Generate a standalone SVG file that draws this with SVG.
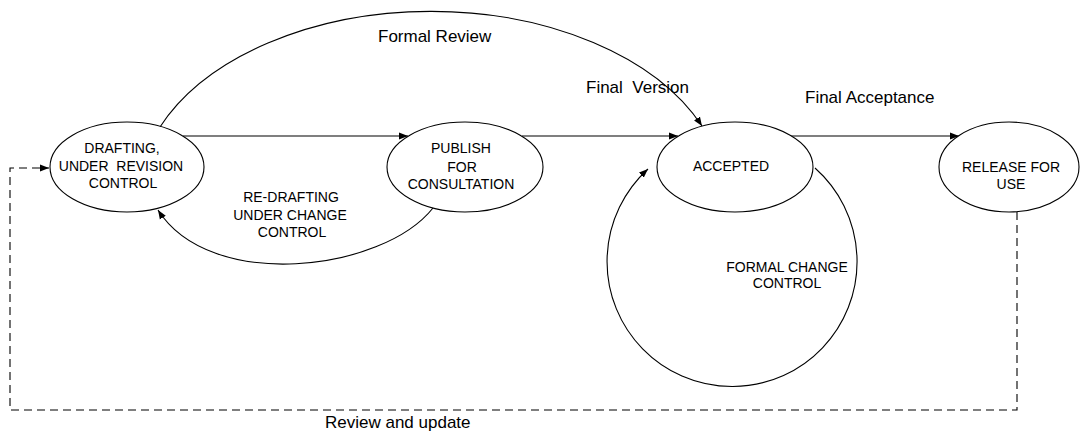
<svg xmlns="http://www.w3.org/2000/svg" width="1084" height="436" viewBox="0 0 1084 436">
<style>
.n{fill:#fff;stroke:#000;stroke-width:1.1}
.t{font-family:"Liberation Sans",Arial,sans-serif;font-size:14px;fill:#000;text-anchor:middle}
.l{font-family:"Liberation Sans",Arial,sans-serif;font-size:17px;fill:#000}
.c{fill:none;stroke:#000;stroke-width:1.1}
.d{fill:none;stroke:#000;stroke-width:1.1;stroke-dasharray:8,5}
.pre{white-space:pre}
</style>
<defs>
<marker id="ah" markerUnits="userSpaceOnUse" markerWidth="10" markerHeight="8" refX="9" refY="4" orient="auto">
<path d="M0,0.5 L9,4 L0,7.5 Z" fill="#000"/>
</marker>
</defs>
<rect width="1084" height="436" fill="#fff"/>
<g id="connectors">
<path class="c" d="M183,136 H408" marker-end="url(#ah)"/>
<path class="c" d="M522,136 H678" marker-end="url(#ah)"/>
<path class="c" d="M791,136 H959" marker-end="url(#ah)"/>
<path class="c" d="M160,127 A294,188 0 0 1 702,126" marker-end="url(#ah)"/>
<path class="c" d="M433,208 C382,272 210,292 158,210" marker-end="url(#ah)"/>
<path class="c" d="M815,168 A125,125 0 1 1 648,169" marker-end="url(#ah)"/>
<path class="d" d="M1017,212 V410 H10 V168 H49" marker-end="url(#ah)"/>
</g>
<g id="labels">
<text class="l" x="378" y="42">Formal Review</text>
<text class="l pre" x="586" y="93">Final  Version</text>
<text class="l" x="805" y="103">Final Acceptance</text>
<text class="l" x="325" y="428">Review and update</text>
<text class="t" x="291" y="202">RE-DRAFTING</text>
<text class="t" x="290" y="220">UNDER CHANGE</text>
<text class="t" x="292" y="237">CONTROL</text>
<text class="t" x="787" y="272">FORMAL CHANGE</text>
<text class="t" x="787" y="288">CONTROL</text>
</g>
<g id="node-drafting">
<ellipse class="n" cx="127" cy="167" rx="77" ry="45"/>
<text class="t" x="122" y="153">DRAFTING,</text>
<text class="t pre" x="121" y="171">UNDER  REVISION</text>
<text class="t" x="123" y="188">CONTROL</text>
</g>
<g id="node-publish">
<ellipse class="n" cx="465" cy="167" rx="78" ry="45"/>
<text class="t" x="461" y="153">PUBLISH</text>
<text class="t" x="462" y="172">FOR</text>
<text class="t" x="461" y="189">CONSULTATION</text>
</g>
<g id="node-accepted">
<ellipse class="n" cx="735" cy="167" rx="78" ry="45"/>
<text class="t" x="731" y="171">ACCEPTED</text>
</g>
<g id="node-release">
<ellipse class="n" cx="1009" cy="167" rx="70" ry="45"/>
<text class="t" x="1011" y="172">RELEASE FOR</text>
<text class="t" x="1011" y="189">USE</text>
</g>
</svg>
